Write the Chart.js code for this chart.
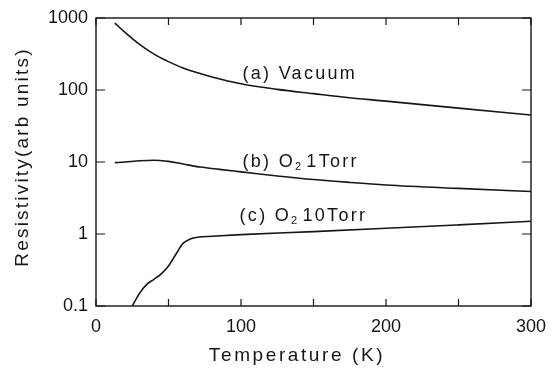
<!DOCTYPE html>
<html>
<head>
<meta charset="utf-8">
<script src="https://cdn.jsdelivr.net/npm/chart.js@4/dist/chart.umd.min.js"></script>
<style>
  html, body { margin:0; padding:0; background:#fff; }
  #wrap { width:553px; height:370px; }
</style>
</head>
<body>
<div id="wrap"><canvas id="c" width="553" height="370"></canvas></div>
<script>
// ── Data ──────────────────────────────────────────────────────
const tempA = [13, 20, 30, 40, 50, 60, 80, 100, 125, 150, 175, 200, 250, 300];
const rhoA  = [850, 630, 430, 315, 248, 202, 152, 122, 102, 89, 78, 70, 56, 45];

const tempB = [13, 20, 30, 40, 50, 60, 72, 85, 100, 125, 150, 175, 200, 250, 300];
const rhoB  = [9.8, 10, 10.4, 10.6, 10.2, 9.4, 8.5, 7.9, 7.3, 6.4, 5.7, 5.2, 4.8, 4.3, 3.9];

const tempC = [25, 30, 35, 40, 45, 50, 55, 60, 65, 70, 80, 100, 150, 200, 250, 300];
const rhoC  = [0.1, 0.15, 0.2, 0.235, 0.28, 0.36, 0.52, 0.74, 0.85, 0.9, 0.93, 0.98, 1.08, 1.2, 1.34, 1.5];

const xTickLabels = [0, 100, 200, 300];
const yTickLabels = [0.1, 1, 10, 100, 1000];
const xMinorTicks = [50, 150, 250];

// curve labels: [text before subscript, subscript, text after], anchor (T, rho)
const curveLabels = [
  { parts:['(a) Vacuum', '', ''],   t:101, r:165 },
  { parts:['(b) O', '2', '1Torr'],  t:101, r:10 },
  { parts:['(c) O', '2', '10Torr'], t:99,  r:1.8 },
];

const INK  = '#161616';
const FONT = '"Liberation Sans", Arial, sans-serif';

const toXY = (xs, ys) => xs.map((x, i) => ({ x, y: ys[i] }));

const line = (xs, ys) => ({
  data: toXY(xs, ys),
  borderColor: INK, borderWidth: 1.6,
  pointRadius: 0, fill: false,
  cubicInterpolationMode: 'monotone',
});

// ── Frame, inward ticks and curve labels ──────────────────────
const framePlugin = {
  id: 'frame',
  afterDatasetsDraw(chart) {
    const { ctx, chartArea: a, scales: { x, y } } = chart;
    ctx.save();
    ctx.strokeStyle = INK;
    ctx.lineWidth = 1.4;
    ctx.strokeRect(a.left, a.top, a.right - a.left, a.bottom - a.top);

    ctx.lineWidth = 1.2;
    ctx.beginPath();
    xTickLabels.concat(xMinorTicks).forEach(v => {
      const px = x.getPixelForValue(v);
      ctx.moveTo(px, a.bottom); ctx.lineTo(px, a.bottom - 7);
      ctx.moveTo(px, a.top);    ctx.lineTo(px, a.top + 7);
    });
    yTickLabels.forEach(v => {
      const py = y.getPixelForValue(v);
      ctx.moveTo(a.left, py);  ctx.lineTo(a.left + 9, py);
      ctx.moveTo(a.right, py); ctx.lineTo(a.right - 9, py);
    });
    ctx.stroke();

    // labels on the curves
    ctx.fillStyle = INK;
    ctx.textBaseline = 'middle';
    curveLabels.forEach(l => {
      let px = x.getPixelForValue(l.t);
      const py = y.getPixelForValue(l.r);
      ctx.letterSpacing = '2.3px';
      ctx.font = '18px ' + FONT;
      ctx.fillText(l.parts[0], px, py);
      px += ctx.measureText(l.parts[0]).width;
      if (l.parts[1]) {
        ctx.font = '11px ' + FONT;
        ctx.fillText(l.parts[1], px, py + 5);
        px += ctx.measureText(l.parts[1]).width + 3;
        ctx.font = '18px ' + FONT;
      }
      ctx.fillText(l.parts[2], px, py);
    });

    // axis titles
    ctx.font = '19px ' + FONT;
    ctx.letterSpacing = '2.6px';
    ctx.textAlign = 'center';
    ctx.fillText('Temperature (K)', 297, 356);
    ctx.letterSpacing = '2.2px';
    ctx.translate(23, 157);
    ctx.rotate(-Math.PI / 2);
    ctx.fillText('Resistivity(arb units)', 0, 0);
    ctx.restore();
  }
};

new Chart(document.getElementById('c'), {
  type: 'line',
  data: {
    datasets: [
      line(tempA, rhoA),
      line(tempB, rhoB),
      line(tempC, rhoC),
    ]
  },
  options: {
    responsive: false,
    animation: false,
    devicePixelRatio: 1,
    layout: { padding: { left: 0, right: 22, top: 18, bottom: 0 } },
    plugins: { legend: { display: false }, tooltip: { enabled: false } },
    scales: {
      x: {
        type: 'linear', min: 0, max: 300,
        afterBuildTicks: s => { s.ticks = xTickLabels.map(v => ({ value: v })); },
        afterFit: s => { s.height = 64; s.paddingLeft = 0; s.paddingRight = 0; },
        grid: { display: false, drawTicks: false },
        border: { display: false },
        ticks: { color: INK, padding: 10, font: { family: FONT, size: 18 } },
      },
      y: {
        type: 'logarithmic', min: 0.1, max: 1000,
        afterBuildTicks: s => { s.ticks = yTickLabels.map(v => ({ value: v })); },
        afterFit: s => { s.width = 96; s.paddingTop = 0; s.paddingBottom = 0; },
        grid: { display: false, drawTicks: false },
        border: { display: false },
        ticks: { color: INK, padding: 8, font: { family: FONT, size: 18 }, callback: v => String(v) },
      }
    }
  },
  plugins: [framePlugin]
});
</script>
</body>
</html>
